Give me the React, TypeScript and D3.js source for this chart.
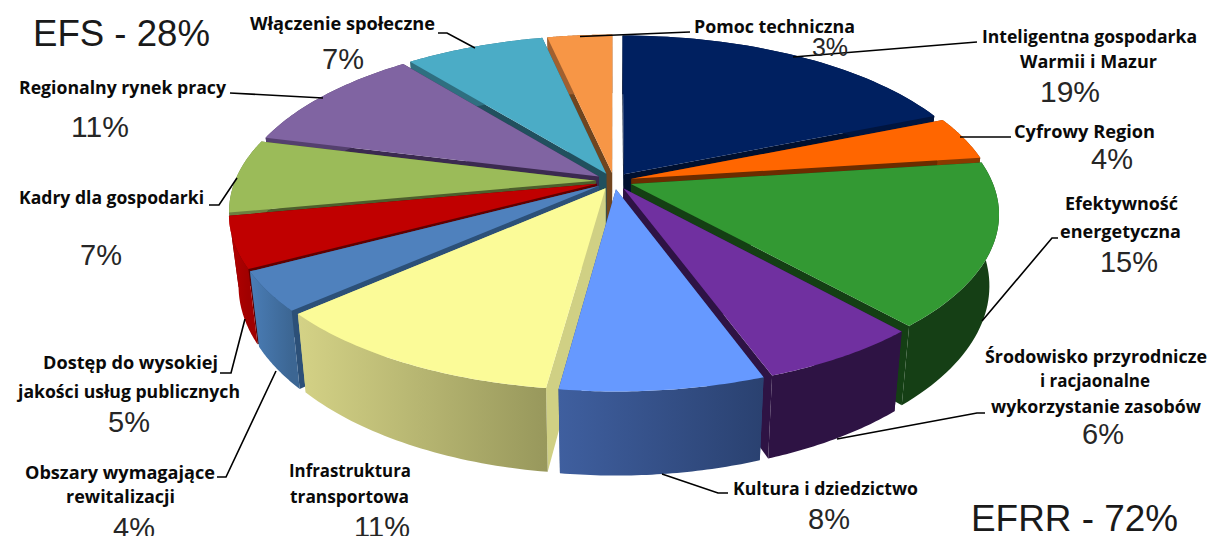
import React from "react";
import * as d3 from "d3";

const W = 1215, H = 536;

const categories = ["Inteligentna gospodarka Warmii i Mazur", "Cyfrowy Region", "Efektywność energetyczna", "Środowisko przyrodnicze i racjaonalne wykorzystanie zasobów", "Kultura i dziedzictwo", "Infrastruktura transportowa", "Obszary wymagające rewitalizacji", "Dostęp do wysokiej jakości usług publicznych", "Kadry dla gospodarki", "Regionalny rynek pracy", "Włączenie społeczne", "Pomoc techniczna"];
const values = [18.75, 4.15, 15.55, 6.05, 7.6, 11.3, 3.75, 4.85, 7, 10.3, 7.3, 3.4];
const topColors = ["#002060", "#ff6600", "#339933", "#7030a0", "#6699ff", "#fbfb98", "#4f81bd", "#c00000", "#9bbb59", "#8064a2", "#4bacc6", "#f79646"];
const faceColors = ["#00102f", "#6b2c00", "#143f14", "#2e1344", "#2f4a80", "#d0d084", "#2c5078", "#600000", "#4d5e2c", "#3b2a50", "#21505e", "#70451f"];
const wallStart = ["#00153f", "#8a3a00", "#153f15", "#2e1344", "#3f5f9f", "#d4d286", "#4a7db6", "#b50000", "#6b8040", "#54406e", "#2f6f80", "#a06030"];
const wallEnd = ["#00153f", "#8a3a00", "#153f15", "#2e1344", "#2a4170", "#98985c", "#3c6693", "#a00000", "#6b8040", "#54406e", "#2f6f80", "#a06030"];

// Pie camera
const cx = 614, cy = 181, rx = 361, ry = 164.5, persp = 0.171, explode = 0.05, depth = 69, shrink = 0.975;

type P = [number, number];
const top = (u: number, v: number): P => {
  const w = 1 + persp * v;
  return [cx + (rx * u) / w, cy - (ry * v) / w];
};
const bottom = (u: number, v: number): P => {
  const w = 1 + persp * v;
  const [x, y] = top(u, v);
  return [cx + (x - cx) * shrink, y + depth / w];
};
const path = d3.line<P>().curve(d3.curveLinear);

const arcs = d3.pie<number>().sort(null).startAngle(0).endAngle(2 * Math.PI)(values);

const slices = arcs.map((a, i) => {
  const mid = (a.startAngle + a.endAngle) / 2;
  const ox = explode * Math.sin(mid), oy = explode * Math.cos(mid);
  const steps = d3.range(0, 41).map((s) => a.startAngle + ((a.endAngle - a.startAngle) * s) / 40);
  const rimUV = steps.map((t) => [ox + Math.sin(t), oy + Math.cos(t)] as P);
  const rimTop = rimUV.map(([u, v]) => top(u, v));
  const rimBot = rimUV.map(([u, v]) => bottom(u, v));
  const apexT = top(ox, oy), apexB = bottom(ox, oy);
  const faceA = [apexT, rimTop[0], rimBot[0], apexB] as P[];
  const faceB = [apexT, rimTop[40], rimBot[40], apexB] as P[];
  const wall = [...rimTop, ...[...rimBot].reverse()];
  const surface = [apexT, ...rimTop];
  const xs = rimTop.map((p) => p[0]);
  return { i, mid, faceA, faceB, wall, surface, x0: d3.min(xs)!, x1: d3.max(xs)! };
});
const order = [...slices].sort((a, b) => Math.cos(b.mid) - Math.cos(a.mid));

const labelFont = "'Open Sans', sans-serif";
const pctFont = "'Liberation Sans', Arial, sans-serif";

// [text, left x, right x, baseline]
const nameLines: [string, number, number, number][] = [
  ["Pomoc techniczna", 694, 855, 33],
  ["Inteligentna gospodarka", 982, 1197, 43],
  ["Warmii i Mazur", 1020, 1157, 68],
  ["Cyfrowy Region", 1014, 1155, 138],
  ["Efektywność", 1065, 1178, 210],
  ["energetyczna", 1060, 1181, 238],
  ["Środowisko przyrodnicze", 985, 1207, 363],
  ["i racjaonalne", 1040, 1150, 387],
  ["wykorzystanie zasobów", 991, 1201, 413],
  ["Kultura i dziedzictwo", 733, 918, 495],
  ["Włączenie społeczne", 250, 435, 30],
  ["Regionalny rynek pracy", 19, 226, 94],
  ["Kadry dla gospodarki", 19, 204, 204],
  ["Dostęp do wysokiej", 43, 218, 369],
  ["jakości usług publicznych", 18, 240, 398],
  ["Obszary wymagające", 25, 215, 479],
  ["rewitalizacji", 66, 175, 503],
  ["Infrastruktura", 289, 411, 477],
  ["transportowa", 290, 409, 503],
];
// [text, centre x, baseline, size]
const pctLabels: [string, number, number, number][] = [
  ["3%", 830, 56, 25],
  ["19%", 1070, 102, 30],
  ["4%", 1112, 169, 29],
  ["15%", 1129, 272, 29],
  ["6%", 1103, 444, 29],
  ["8%", 829, 529, 29],
  ["7%", 343, 69, 29],
  ["11%", 100, 137, 30],
  ["7%", 101, 265, 29],
  ["5%", 129, 432, 29],
  ["4%", 134, 538, 29],
  ["11%", 382, 537, 29],
];
const fundLabels: [string, number, number, number][] = [
  ["EFS - 28%", 33, 210, 46],
  ["EFRR - 72%", 971, 1178, 531],
];
const leaders: P[][] = [
  [[690, 32], [580, 36.5]],
  [[977, 42], [793, 57]],
  [[1011, 137], [960, 137]],
  [[1058, 238], [1052, 238], [982, 321]],
  [[985, 413], [977, 413], [837, 439]],
  [[728, 493], [718, 493], [662, 474]],
  [[438, 33], [447, 33], [475, 48]],
  [[230, 93], [323, 98]],
  [[209, 205], [219, 205], [237, 178]],
  [[220, 373], [231, 373], [245, 319]],
  [[217, 477], [226, 477], [276, 371]],
];

export default function App() {
  return (
    <svg width={W} height={H} viewBox={`0 0 ${W} ${H}`} style={{ position: "absolute", left: 0, top: 0, background: "#fff" }}>
      <defs>
        {slices.map((s) => (
          <linearGradient key={s.i} id={`wall${s.i}`} gradientUnits="userSpaceOnUse" x1={s.x0} x2={s.x1} y1={0} y2={0}>
            <stop offset="0%" stopColor={wallStart[s.i]} />
            <stop offset="100%" stopColor={wallEnd[s.i]} />
          </linearGradient>
        ))}
      </defs>
      {order.map((s) => (
        <g key={s.i}>
          <path d={path(s.faceA)! + "Z"} fill={faceColors[s.i]} />
          <path d={path(s.faceB)! + "Z"} fill={faceColors[s.i]} />
          <path d={path(s.wall)! + "Z"} fill={`url(#wall${s.i})`} />
          <path d={path(s.surface)! + "Z"} fill={topColors[s.i]}>
            <title>{categories[s.i]}</title>
          </path>
        </g>
      ))}
      {leaders.map((l, i) => (
        <path key={i} d={path(l)!} fill="none" stroke="#000" strokeWidth={1.6} />
      ))}
      {nameLines.map(([t, x0, x1, y]) => (
        <text key={t} x={x0} y={y} textLength={x1 - x0} lengthAdjust="spacingAndGlyphs" fontFamily={labelFont} fontWeight={700} fontSize={17.5} fill="#0a0a0a">{t}</text>
      ))}
      {pctLabels.map(([t, x, y, fs], i) => (
        <text key={i} x={x} y={y} textAnchor="middle" fontFamily={pctFont} fontSize={fs} fill="#262626">{t}</text>
      ))}
      {fundLabels.map(([t, x0, x1, y]) => (
        <text key={t} x={x0} y={y} textLength={x1 - x0} lengthAdjust="spacingAndGlyphs" fontFamily={pctFont} fontSize={36} fill="#1a1a1a">{t}</text>
      ))}
    </svg>
  );
}
